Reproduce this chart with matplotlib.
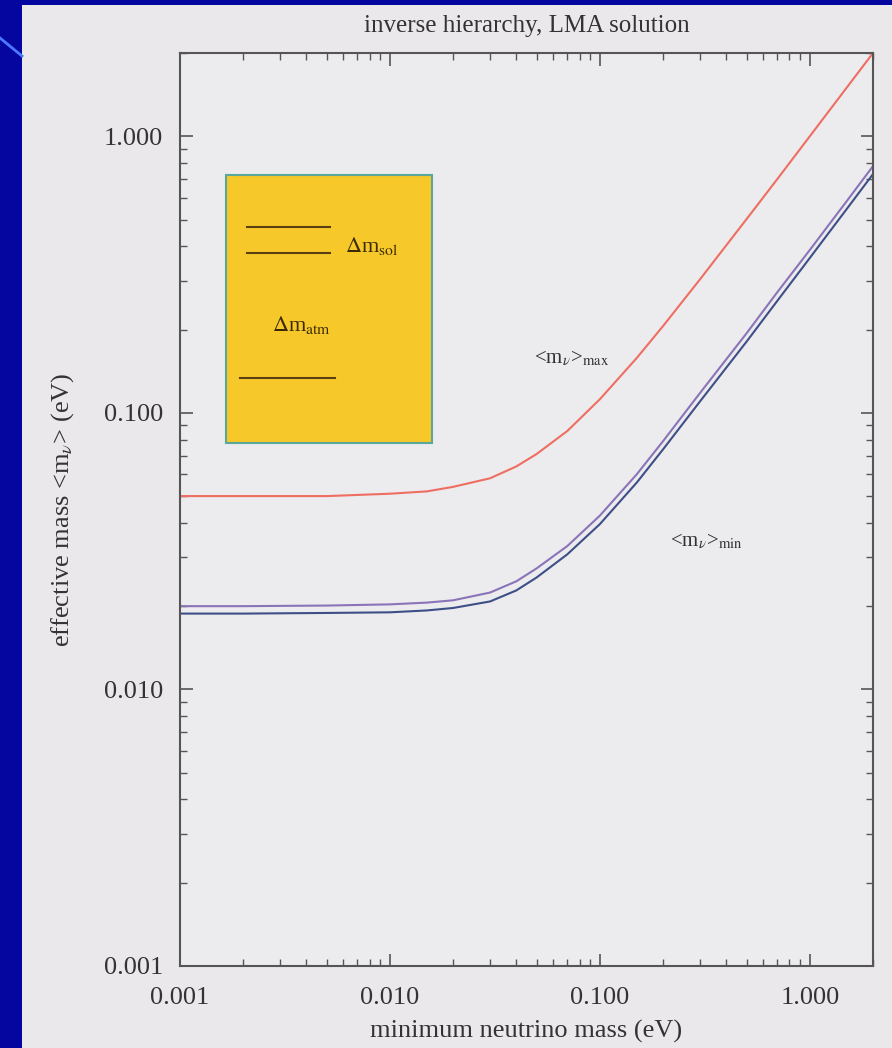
import matplotlib
matplotlib.use("Agg")
import matplotlib.pyplot as plt
from matplotlib.patches import Rectangle
from matplotlib.lines import Line2D

plt.rcParams['font.family'] = ['Liberation Serif', 'DejaVu Serif']
plt.rcParams['mathtext.fontset'] = 'stix'

# lightest neutrino mass (eV)
m_min = [0.001, 0.002, 0.005, 0.01, 0.015, 0.02, 0.03, 0.04, 0.05, 0.07,
         0.1, 0.15, 0.2, 0.3, 0.5, 0.7, 1.0, 1.5, 2.0]
# maximal effective mass
eff_max = [0.050, 0.050, 0.050, 0.051, 0.052, 0.054, 0.058, 0.064, 0.071, 0.086,
           0.112, 0.158, 0.206, 0.304, 0.502, 0.70, 1.0, 1.5, 2.0]
# minimal effective mass, two bands
eff_min_a = [0.0200, 0.0200, 0.0201, 0.0203, 0.0206, 0.0210, 0.0224, 0.0246, 0.0274, 0.0330,
             0.0425, 0.0600, 0.0790, 0.118, 0.194, 0.273, 0.388, 0.583, 0.780]
eff_min_b = [0.0188, 0.0188, 0.0189, 0.0190, 0.0193, 0.0197, 0.0208, 0.0228, 0.0254, 0.0308,
             0.0396, 0.0560, 0.0738, 0.110, 0.181, 0.254, 0.363, 0.546, 0.730]

x_ticks = [0.001, 0.01, 0.1, 1.0]
x_ticklabels = ["0.001", "0.010", "0.100", "1.000"]
y_ticks = [0.001, 0.01, 0.1, 1.0]
y_ticklabels = ["0.001", "0.010", "0.100", "1.000"]

W, H = 892, 1048
fig = plt.figure(figsize=(W / 100, H / 100), dpi=100)
fig.patch.set_facecolor('#0505a0')

# light page behind the plot
page = fig.add_axes([22 / W, 0, 1 - 22 / W, 1 - 5 / H])
page.set_facecolor('#ebe8eb')
page.set_xticks([]); page.set_yticks([])
for s in page.spines.values():
    s.set_visible(False)
fig.add_artist(Line2D([0, 22 / W], [1 - 38 / H, 1 - 56 / H],
                      transform=fig.transFigure, color='#4a78ff', lw=2))

ax = fig.add_axes([180 / W, 1 - 966 / H, (873 - 180) / W, (966 - 53) / H])
ax.set_facecolor('#ecebee')
ax.set_xscale('log'); ax.set_yscale('log')
ax.set_xlim(0.001, 2.0); ax.set_ylim(0.001, 2.0)

ax.plot(m_min, eff_max, color='#ef6e62', lw=1.5)
ax.plot(m_min, eff_min_a, color='#8a74b8', lw=1.5)
ax.plot(m_min, eff_min_b, color='#3d4f86', lw=1.5)

ax.set_xticks(x_ticks)
ax.set_xticklabels(x_ticklabels)
ax.set_yticks(y_ticks)
ax.set_yticklabels(y_ticklabels)
ax.tick_params(which='both', direction='in', top=True, right=True,
               colors='#555555', labelcolor='#333333', labelsize=19)
ax.tick_params(which='major', length=9, width=1.2)
ax.tick_params(which='minor', length=5, width=1.0)
ax.tick_params(axis='y', pad=12)
ax.tick_params(axis='x', pad=15)
for s in ax.spines.values():
    s.set_color('#555555'); s.set_linewidth(1.5)

ax.set_xlabel("minimum neutrino mass (eV)", fontsize=19, color='#333333', labelpad=8)
ax.set_ylabel(r"effective mass <m$_\nu$> (eV)", fontsize=19, color='#333333', labelpad=20)
ax.set_title("inverse hierarchy, LMA solution", fontsize=18, color='#333333', pad=15)

ax.text(0.565, 0.665, r"<m$_\nu$>$_{\rm max}$", transform=ax.transAxes,
        fontsize=15, color='#333333', ha='center', va='center')
ax.text(0.76, 0.465, r"<m$_\nu$>$_{\rm min}$", transform=ax.transAxes,
        fontsize=15, color='#333333', ha='center', va='center')

# level-scheme inset
def ax_xy(px, py):
    return (px - 180) / (873 - 180), (966 - py) / (966 - 53)

x0, y0 = ax_xy(226, 443)
x1, y1 = ax_xy(432, 175)
ax.add_patch(Rectangle((x0, y0), x1 - x0, y1 - y0, transform=ax.transAxes,
                       facecolor='#f7c829', edgecolor='#5aa89a', lw=1.5, zorder=3))
for (xa, xb, yy) in [(247, 330, 227), (247, 330, 253), (240, 335, 378)]:
    (ua, vv), (ub, _) = ax_xy(xa, yy), ax_xy(xb, yy)
    ax.plot([ua, ub], [vv, vv], transform=ax.transAxes, color='#5a4010', lw=1.5, zorder=4)
tx, ty = ax_xy(345, 246)
ax.text(tx, ty, r"$\Delta$m$_{\rm sol}$", transform=ax.transAxes, fontsize=16,
        color='#3a2a08', ha='left', va='center', zorder=4)
tx, ty = ax_xy(272, 325)
ax.text(tx, ty, r"$\Delta$m$_{\rm atm}$", transform=ax.transAxes, fontsize=16,
        color='#3a2a08', ha='left', va='center', zorder=4)

fig.savefig("out.png", dpi=100, facecolor=fig.get_facecolor())
